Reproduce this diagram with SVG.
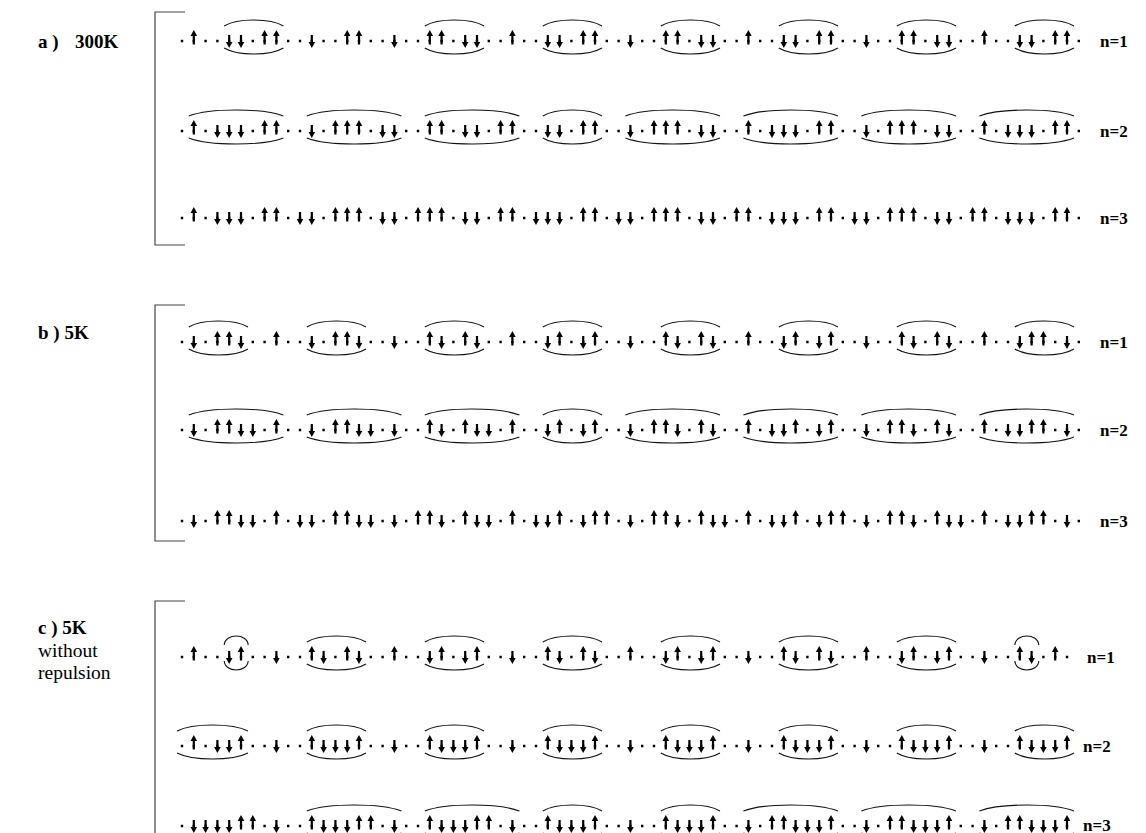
<svg xmlns="http://www.w3.org/2000/svg" xmlns:xlink="http://www.w3.org/1999/xlink" width="1146" height="833" viewBox="0 0 1146 833">
<style>
.dots{fill:none;stroke:#000;stroke-width:2.4;stroke-dasharray:2.4 9.4}
.dotsc{fill:none;stroke:#000;stroke-width:2.4;stroke-dasharray:2.4 9.4}
.arc{fill:none;stroke:#111;stroke-width:1.1}
.br{fill:none;stroke:#444;stroke-width:1.2}
.lb{font-family:"Liberation Serif","Times New Roman",serif;font-weight:bold;font-size:19px;fill:#000}
.lr{font-family:"Liberation Serif","Times New Roman",serif;font-size:19.5px;fill:#000}
.nl{font-family:"Liberation Serif","Times New Roman",serif;font-weight:bold;font-size:17px;fill:#000}
</style>
<defs>
<path id="u" d="M0,-11L3.3,-5H1.1V3.5H-1.1V-5H-3.3Z" fill="#000"/>
<path id="d" d="M0,7L3.3,1H1.1V-6H-1.1V1H-3.3Z" fill="#000"/>
</defs>
<rect width="1146" height="833" fill="#fff"/>

<g id="labels">
<text class="lb" x="38" y="48" xml:space="preserve">a )  <tspan x="75">300K</tspan></text>
<text class="lb" x="38" y="339">b ) 5K</text>
<text class="lb" x="38" y="634">c ) 5K</text>
<text class="lr" x="38" y="657">without</text>
<text class="lr" x="38" y="679">repulsion</text>
<text class="nl" x="1100" y="47">n=1</text>
<text class="nl" x="1100" y="137">n=2</text>
<text class="nl" x="1100" y="224">n=3</text>
<text class="nl" x="1100" y="348">n=1</text>
<text class="nl" x="1100" y="436">n=2</text>
<text class="nl" x="1100" y="527">n=3</text>
<text class="nl" x="1087" y="663">n=1</text>
<text class="nl" x="1083" y="752">n=2</text>
<text class="nl" x="1083" y="831">n=3</text>
</g>

<g id="brackets">
<path class="br" d="M185,12H155V245H185"/>
<path class="br" d="M185,305H155V541H185"/>
<path class="br" d="M185,601H155V840"/>
</g>

<g id="row-a1" transform="translate(0,41)">
<path class="dots" d="M180.8,0H1080"/>
<path class="arc" d="M224.2,-15C237.2,-23 270.4,-23 283.4,-15M224.2,7C237.2,15 270.4,15 283.4,7M424.8,-15C437.8,-23 471,-23 484,-15M424.8,7C437.8,15 471,15 484,7M542.8,-15C555.8,-23 589,-23 602,-15M542.8,7C555.8,15 589,15 602,7M660.8,-15C673.8,-23 707,-23 720,-15M660.8,7C673.8,15 707,15 720,7M778.8,-15C791.8,-23 825,-23 838,-15M778.8,7C791.8,15 825,15 838,7M896.8,-15C909.8,-23 943,-23 956,-15M896.8,7C909.8,15 943,15 956,7M1014.8,-15C1027.8,-23 1061,-23 1074,-15M1014.8,7C1027.8,15 1061,15 1074,7"/>
<use href="#u" x="193.8"/><use href="#u" x="264.6"/><use href="#u" x="276.4"/><use href="#u" x="347.2"/><use href="#u" x="359"/><use href="#u" x="429.8"/><use href="#u" x="441.6"/><use href="#u" x="512.4"/><use href="#u" x="583.2"/><use href="#u" x="595"/><use href="#u" x="665.8"/><use href="#u" x="677.6"/><use href="#u" x="748.4"/><use href="#u" x="819.2"/><use href="#u" x="831"/><use href="#u" x="901.8"/><use href="#u" x="913.6"/><use href="#u" x="984.4"/><use href="#u" x="1055.2"/><use href="#u" x="1067"/>
<use href="#d" x="229.2"/><use href="#d" x="241"/><use href="#d" x="311.8"/><use href="#d" x="394.4"/><use href="#d" x="465.2"/><use href="#d" x="477"/><use href="#d" x="547.8"/><use href="#d" x="559.6"/><use href="#d" x="630.4"/><use href="#d" x="701.2"/><use href="#d" x="713"/><use href="#d" x="783.8"/><use href="#d" x="795.6"/><use href="#d" x="866.4"/><use href="#d" x="937.2"/><use href="#d" x="949"/><use href="#d" x="1019.8"/><use href="#d" x="1031.6"/>
</g>

<g id="row-a2" transform="translate(0,131)">
<path class="dots" d="M180.8,0H1080"/>
<path class="arc" d="M188.8,-15C209.8,-23 262.4,-23 283.4,-15M188.8,7C209.8,15 262.4,15 283.4,7M306.8,-15C327.8,-23 380.4,-23 401.4,-15M306.8,7C327.8,15 380.4,15 401.4,7M424.8,-15C445.8,-23 498.4,-23 519.4,-15M424.8,7C445.8,15 498.4,15 519.4,7M542.8,-15C555.8,-23 589,-23 602,-15M542.8,7C555.8,15 589,15 602,7M625.4,-15C646.4,-23 699,-23 720,-15M625.4,7C646.4,15 699,15 720,7M743.4,-15C764.4,-23 817,-23 838,-15M743.4,7C764.4,15 817,15 838,7M861.4,-15C882.4,-23 935,-23 956,-15M861.4,7C882.4,15 935,15 956,7M979.4,-15C1000.4,-23 1053,-23 1074,-15M979.4,7C1000.4,15 1053,15 1074,7"/>
<use href="#u" x="193.8"/><use href="#u" x="264.6"/><use href="#u" x="276.4"/><use href="#u" x="335.4"/><use href="#u" x="347.2"/><use href="#u" x="359"/><use href="#u" x="429.8"/><use href="#u" x="441.6"/><use href="#u" x="500.6"/><use href="#u" x="512.4"/><use href="#u" x="583.2"/><use href="#u" x="595"/><use href="#u" x="654"/><use href="#u" x="665.8"/><use href="#u" x="677.6"/><use href="#u" x="748.4"/><use href="#u" x="819.2"/><use href="#u" x="831"/><use href="#u" x="890"/><use href="#u" x="901.8"/><use href="#u" x="913.6"/><use href="#u" x="984.4"/><use href="#u" x="1055.2"/><use href="#u" x="1067"/>
<use href="#d" x="217.4"/><use href="#d" x="229.2"/><use href="#d" x="241"/><use href="#d" x="311.8"/><use href="#d" x="382.6"/><use href="#d" x="394.4"/><use href="#d" x="465.2"/><use href="#d" x="477"/><use href="#d" x="547.8"/><use href="#d" x="559.6"/><use href="#d" x="630.4"/><use href="#d" x="701.2"/><use href="#d" x="713"/><use href="#d" x="772"/><use href="#d" x="783.8"/><use href="#d" x="795.6"/><use href="#d" x="866.4"/><use href="#d" x="937.2"/><use href="#d" x="949"/><use href="#d" x="1008"/><use href="#d" x="1019.8"/><use href="#d" x="1031.6"/>
</g>

<g id="row-a3" transform="translate(0,218)">
<path class="dots" d="M180.8,0H1080"/>
<use href="#u" x="193.8"/><use href="#u" x="264.6"/><use href="#u" x="276.4"/><use href="#u" x="335.4"/><use href="#u" x="347.2"/><use href="#u" x="359"/><use href="#u" x="418"/><use href="#u" x="429.8"/><use href="#u" x="441.6"/><use href="#u" x="500.6"/><use href="#u" x="512.4"/><use href="#u" x="583.2"/><use href="#u" x="595"/><use href="#u" x="654"/><use href="#u" x="665.8"/><use href="#u" x="677.6"/><use href="#u" x="736.6"/><use href="#u" x="748.4"/><use href="#u" x="819.2"/><use href="#u" x="831"/><use href="#u" x="890"/><use href="#u" x="901.8"/><use href="#u" x="913.6"/><use href="#u" x="972.6"/><use href="#u" x="984.4"/><use href="#u" x="1055.2"/><use href="#u" x="1067"/>
<use href="#d" x="217.4"/><use href="#d" x="229.2"/><use href="#d" x="241"/><use href="#d" x="300"/><use href="#d" x="311.8"/><use href="#d" x="382.6"/><use href="#d" x="394.4"/><use href="#d" x="465.2"/><use href="#d" x="477"/><use href="#d" x="536"/><use href="#d" x="547.8"/><use href="#d" x="559.6"/><use href="#d" x="618.6"/><use href="#d" x="630.4"/><use href="#d" x="701.2"/><use href="#d" x="713"/><use href="#d" x="772"/><use href="#d" x="783.8"/><use href="#d" x="795.6"/><use href="#d" x="854.6"/><use href="#d" x="866.4"/><use href="#d" x="937.2"/><use href="#d" x="949"/><use href="#d" x="1008"/><use href="#d" x="1019.8"/><use href="#d" x="1031.6"/>
</g>

<g id="row-b1" transform="translate(0,342)">
<path class="dots" d="M180.8,0H1080"/>
<path class="arc" d="M188.8,-15C201.8,-23 235,-23 248,-15M188.8,7C201.8,15 235,15 248,7M306.8,-15C319.8,-23 353,-23 366,-15M306.8,7C319.8,15 353,15 366,7M424.8,-15C437.8,-23 471,-23 484,-15M424.8,7C437.8,15 471,15 484,7M542.8,-15C555.8,-23 589,-23 602,-15M542.8,7C555.8,15 589,15 602,7M660.8,-15C673.8,-23 707,-23 720,-15M660.8,7C673.8,15 707,15 720,7M778.8,-15C791.8,-23 825,-23 838,-15M778.8,7C791.8,15 825,15 838,7M896.8,-15C909.8,-23 943,-23 956,-15M896.8,7C909.8,15 943,15 956,7M1014.8,-15C1027.8,-23 1061,-23 1074,-15M1014.8,7C1027.8,15 1061,15 1074,7"/>
<use href="#u" x="217.4"/><use href="#u" x="229.2"/><use href="#u" x="276.4"/><use href="#u" x="335.4"/><use href="#u" x="347.2"/><use href="#u" x="429.8"/><use href="#u" x="465.2"/><use href="#u" x="512.4"/><use href="#u" x="559.6"/><use href="#u" x="595"/><use href="#u" x="665.8"/><use href="#u" x="701.2"/><use href="#u" x="748.4"/><use href="#u" x="795.6"/><use href="#u" x="831"/><use href="#u" x="901.8"/><use href="#u" x="937.2"/><use href="#u" x="984.4"/><use href="#u" x="1031.6"/><use href="#u" x="1043.4"/>
<use href="#d" x="193.8"/><use href="#d" x="241"/><use href="#d" x="311.8"/><use href="#d" x="359"/><use href="#d" x="394.4"/><use href="#d" x="441.6"/><use href="#d" x="477"/><use href="#d" x="547.8"/><use href="#d" x="583.2"/><use href="#d" x="630.4"/><use href="#d" x="677.6"/><use href="#d" x="713"/><use href="#d" x="783.8"/><use href="#d" x="819.2"/><use href="#d" x="866.4"/><use href="#d" x="913.6"/><use href="#d" x="949"/><use href="#d" x="1019.8"/><use href="#d" x="1067"/>
</g>

<g id="row-b2" transform="translate(0,430)">
<path class="dots" d="M180.8,0H1080"/>
<path class="arc" d="M188.8,-15C209.8,-23 262.4,-23 283.4,-15M188.8,7C209.8,15 262.4,15 283.4,7M306.8,-15C327.8,-23 380.4,-23 401.4,-15M306.8,7C327.8,15 380.4,15 401.4,7M424.8,-15C445.8,-23 498.4,-23 519.4,-15M424.8,7C445.8,15 498.4,15 519.4,7M542.8,-15C555.8,-23 589,-23 602,-15M542.8,7C555.8,15 589,15 602,7M625.4,-15C646.4,-23 699,-23 720,-15M625.4,7C646.4,15 699,15 720,7M743.4,-15C764.4,-23 817,-23 838,-15M743.4,7C764.4,15 817,15 838,7M861.4,-15C882.4,-23 935,-23 956,-15M861.4,7C882.4,15 935,15 956,7M979.4,-15C1000.4,-23 1053,-23 1074,-15M979.4,7C1000.4,15 1053,15 1074,7"/>
<use href="#u" x="217.4"/><use href="#u" x="229.2"/><use href="#u" x="276.4"/><use href="#u" x="335.4"/><use href="#u" x="347.2"/><use href="#u" x="429.8"/><use href="#u" x="465.2"/><use href="#u" x="512.4"/><use href="#u" x="559.6"/><use href="#u" x="595"/><use href="#u" x="654"/><use href="#u" x="665.8"/><use href="#u" x="701.2"/><use href="#u" x="748.4"/><use href="#u" x="795.6"/><use href="#u" x="831"/><use href="#u" x="890"/><use href="#u" x="901.8"/><use href="#u" x="937.2"/><use href="#u" x="984.4"/><use href="#u" x="1031.6"/><use href="#u" x="1043.4"/>
<use href="#d" x="193.8"/><use href="#d" x="241"/><use href="#d" x="252.8"/><use href="#d" x="311.8"/><use href="#d" x="359"/><use href="#d" x="370.8"/><use href="#d" x="394.4"/><use href="#d" x="441.6"/><use href="#d" x="477"/><use href="#d" x="488.8"/><use href="#d" x="547.8"/><use href="#d" x="583.2"/><use href="#d" x="630.4"/><use href="#d" x="677.6"/><use href="#d" x="713"/><use href="#d" x="772"/><use href="#d" x="783.8"/><use href="#d" x="819.2"/><use href="#d" x="866.4"/><use href="#d" x="913.6"/><use href="#d" x="949"/><use href="#d" x="1008"/><use href="#d" x="1019.8"/><use href="#d" x="1067"/>
</g>

<g id="row-b3" transform="translate(0,521)">
<path class="dots" d="M180.8,0H1080"/>
<use href="#u" x="217.4"/><use href="#u" x="229.2"/><use href="#u" x="276.4"/><use href="#u" x="335.4"/><use href="#u" x="347.2"/><use href="#u" x="418"/><use href="#u" x="429.8"/><use href="#u" x="465.2"/><use href="#u" x="512.4"/><use href="#u" x="559.6"/><use href="#u" x="595"/><use href="#u" x="606.8"/><use href="#u" x="654"/><use href="#u" x="665.8"/><use href="#u" x="701.2"/><use href="#u" x="748.4"/><use href="#u" x="795.6"/><use href="#u" x="831"/><use href="#u" x="842.8"/><use href="#u" x="890"/><use href="#u" x="901.8"/><use href="#u" x="937.2"/><use href="#u" x="984.4"/><use href="#u" x="1031.6"/><use href="#u" x="1043.4"/>
<use href="#d" x="193.8"/><use href="#d" x="241"/><use href="#d" x="252.8"/><use href="#d" x="300"/><use href="#d" x="311.8"/><use href="#d" x="359"/><use href="#d" x="370.8"/><use href="#d" x="394.4"/><use href="#d" x="441.6"/><use href="#d" x="477"/><use href="#d" x="488.8"/><use href="#d" x="536"/><use href="#d" x="547.8"/><use href="#d" x="583.2"/><use href="#d" x="630.4"/><use href="#d" x="677.6"/><use href="#d" x="713"/><use href="#d" x="724.8"/><use href="#d" x="772"/><use href="#d" x="783.8"/><use href="#d" x="819.2"/><use href="#d" x="866.4"/><use href="#d" x="913.6"/><use href="#d" x="949"/><use href="#d" x="960.8"/><use href="#d" x="1008"/><use href="#d" x="1019.8"/><use href="#d" x="1067"/>
</g>

<g id="row-c1" transform="translate(0,657)">
<path class="dotsc" d="M180.8,0H1068.2"/>
<path class="arc" d="M224.2,-12C225,-24 247.4,-24 248.2,-12M224.2,4C225,16 247.4,16 248.2,4M306.8,-15C319.8,-23 353,-23 366,-15M306.8,7C319.8,15 353,15 366,7M424.8,-15C437.8,-23 471,-23 484,-15M424.8,7C437.8,15 471,15 484,7M542.8,-15C555.8,-23 589,-23 602,-15M542.8,7C555.8,15 589,15 602,7M660.8,-15C673.8,-23 707,-23 720,-15M660.8,7C673.8,15 707,15 720,7M778.8,-15C791.8,-23 825,-23 838,-15M778.8,7C791.8,15 825,15 838,7M896.8,-15C909.8,-23 943,-23 956,-15M896.8,7C909.8,15 943,15 956,7M1014.8,-12C1015.6,-24 1038,-24 1038.8,-12M1014.8,4C1015.6,16 1038,16 1038.8,4"/>
<use href="#u" x="193.8"/><use href="#u" x="241"/><use href="#u" x="311.8"/><use href="#u" x="347.2"/><use href="#u" x="394.4"/><use href="#u" x="441.6"/><use href="#u" x="477"/><use href="#u" x="547.8"/><use href="#u" x="583.2"/><use href="#u" x="630.4"/><use href="#u" x="677.6"/><use href="#u" x="713"/><use href="#u" x="783.8"/><use href="#u" x="819.2"/><use href="#u" x="866.4"/><use href="#u" x="913.6"/><use href="#u" x="949"/><use href="#u" x="1019.8"/><use href="#u" x="1055.2"/>
<use href="#d" x="229.2"/><use href="#d" x="276.4"/><use href="#d" x="323.6"/><use href="#d" x="359"/><use href="#d" x="429.8"/><use href="#d" x="465.2"/><use href="#d" x="512.4"/><use href="#d" x="559.6"/><use href="#d" x="595"/><use href="#d" x="665.8"/><use href="#d" x="701.2"/><use href="#d" x="748.4"/><use href="#d" x="795.6"/><use href="#d" x="831"/><use href="#d" x="901.8"/><use href="#d" x="937.2"/><use href="#d" x="984.4"/><use href="#d" x="1031.6"/>
</g>

<g id="row-c2" transform="translate(0,746)">
<path class="dotsc" d="M180.8,0H1068.2"/>
<path class="arc" d="M177,-15C192.6,-23 232.4,-23 248,-15M177,7C192.6,15 232.4,15 248,7M306.8,-15C319.8,-23 353,-23 366,-15M306.8,7C319.8,15 353,15 366,7M424.8,-15C437.8,-23 471,-23 484,-15M424.8,7C437.8,15 471,15 484,7M542.8,-15C555.8,-23 589,-23 602,-15M542.8,7C555.8,15 589,15 602,7M660.8,-15C673.8,-23 707,-23 720,-15M660.8,7C673.8,15 707,15 720,7M778.8,-15C791.8,-23 825,-23 838,-15M778.8,7C791.8,15 825,15 838,7M896.8,-15C909.8,-23 943,-23 956,-15M896.8,7C909.8,15 943,15 956,7M1014.8,-15C1027.8,-23 1061,-23 1074,-15M1014.8,7C1027.8,15 1061,15 1074,7"/>
<use href="#u" x="193.8"/><use href="#u" x="241"/><use href="#u" x="311.8"/><use href="#u" x="359"/><use href="#u" x="429.8"/><use href="#u" x="477"/><use href="#u" x="547.8"/><use href="#u" x="595"/><use href="#u" x="665.8"/><use href="#u" x="713"/><use href="#u" x="783.8"/><use href="#u" x="831"/><use href="#u" x="901.8"/><use href="#u" x="949"/><use href="#u" x="1019.8"/><use href="#u" x="1067"/>
<use href="#d" x="217.4"/><use href="#d" x="229.2"/><use href="#d" x="276.4"/><use href="#d" x="323.6"/><use href="#d" x="335.4"/><use href="#d" x="347.2"/><use href="#d" x="394.4"/><use href="#d" x="441.6"/><use href="#d" x="453.4"/><use href="#d" x="465.2"/><use href="#d" x="512.4"/><use href="#d" x="559.6"/><use href="#d" x="571.4"/><use href="#d" x="583.2"/><use href="#d" x="630.4"/><use href="#d" x="677.6"/><use href="#d" x="689.4"/><use href="#d" x="701.2"/><use href="#d" x="748.4"/><use href="#d" x="795.6"/><use href="#d" x="807.4"/><use href="#d" x="819.2"/><use href="#d" x="866.4"/><use href="#d" x="913.6"/><use href="#d" x="925.4"/><use href="#d" x="937.2"/><use href="#d" x="984.4"/><use href="#d" x="1031.6"/><use href="#d" x="1043.4"/><use href="#d" x="1055.2"/>
</g>

<g id="row-c3" transform="translate(0,826)">
<path class="dotsc" d="M180.8,0H1068.2"/>
<path class="arc" d="M306.8,-15C327.8,-23 380.4,-23 401.4,-15M306.8,7C327.8,15 380.4,15 401.4,7M424.8,-15C445.8,-23 498.4,-23 519.4,-15M424.8,7C445.8,15 498.4,15 519.4,7M542.8,-15C555.8,-23 589,-23 602,-15M542.8,7C555.8,15 589,15 602,7M660.8,-15C673.8,-23 707,-23 720,-15M660.8,7C673.8,15 707,15 720,7M743.4,-15C764.4,-23 817,-23 838,-15M743.4,7C764.4,15 817,15 838,7M861.4,-15C882.4,-23 935,-23 956,-15M861.4,7C882.4,15 935,15 956,7M979.4,-15C1000.4,-23 1053,-23 1074,-15M979.4,7C1000.4,15 1053,15 1074,7"/>
<use href="#u" x="241"/><use href="#u" x="252.8"/><use href="#u" x="311.8"/><use href="#u" x="359"/><use href="#u" x="370.8"/><use href="#u" x="429.8"/><use href="#u" x="477"/><use href="#u" x="488.8"/><use href="#u" x="547.8"/><use href="#u" x="595"/><use href="#u" x="665.8"/><use href="#u" x="713"/><use href="#u" x="772"/><use href="#u" x="783.8"/><use href="#u" x="831"/><use href="#u" x="890"/><use href="#u" x="901.8"/><use href="#u" x="949"/><use href="#u" x="1008"/><use href="#u" x="1019.8"/><use href="#u" x="1067"/>
<use href="#d" x="193.8"/><use href="#d" x="205.6"/><use href="#d" x="217.4"/><use href="#d" x="229.2"/><use href="#d" x="276.4"/><use href="#d" x="323.6"/><use href="#d" x="335.4"/><use href="#d" x="347.2"/><use href="#d" x="394.4"/><use href="#d" x="441.6"/><use href="#d" x="453.4"/><use href="#d" x="465.2"/><use href="#d" x="512.4"/><use href="#d" x="559.6"/><use href="#d" x="571.4"/><use href="#d" x="583.2"/><use href="#d" x="630.4"/><use href="#d" x="677.6"/><use href="#d" x="689.4"/><use href="#d" x="701.2"/><use href="#d" x="748.4"/><use href="#d" x="795.6"/><use href="#d" x="807.4"/><use href="#d" x="819.2"/><use href="#d" x="866.4"/><use href="#d" x="913.6"/><use href="#d" x="925.4"/><use href="#d" x="937.2"/><use href="#d" x="984.4"/><use href="#d" x="1031.6"/><use href="#d" x="1043.4"/><use href="#d" x="1055.2"/>
</g>
</svg>
